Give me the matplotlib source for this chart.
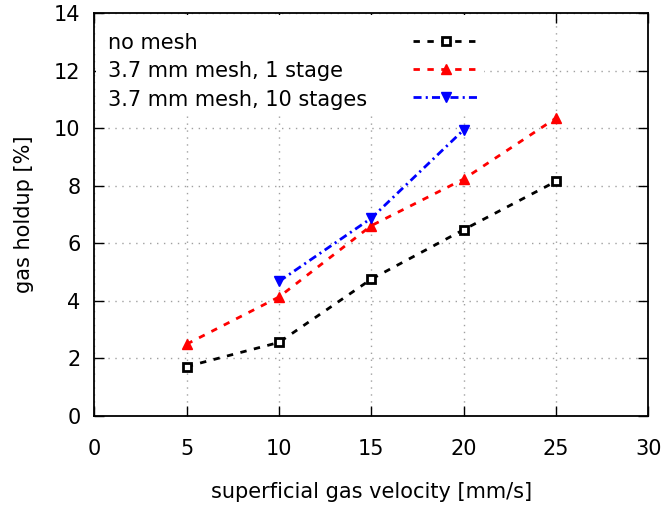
import matplotlib
matplotlib.use("Agg")
import matplotlib.pyplot as plt
from matplotlib.lines import Line2D
from matplotlib.patches import Rectangle

# superficial gas velocity [mm/s]
v_no_mesh = [5, 10, 15, 20, 25]
v_1_stage = [5, 10, 15, 20, 25]
v_10_stages = [10, 15, 20]

# gas holdup [%]
h_no_mesh = [1.71, 2.55, 4.75, 6.47, 8.15]
h_1_stage = [2.49, 4.13, 6.61, 8.23, 10.35]
h_10_stages = [4.67, 6.87, 9.94]

labels = ["no mesh", "3.7 mm mesh, 1 stage", "3.7 mm mesh, 10 stages"]

xticks = [0, 5, 10, 15, 20, 25, 30]
yticks = [0, 2, 4, 6, 8, 10, 12, 14]

plt.rcParams["font.family"] = ["DejaVu Sans"]
FS = 15
LW = 2.0

fig = plt.figure(figsize=(6.69, 5.07), dpi=100)
ax = fig.add_axes([0.141, 0.180, 0.828, 0.794])

styles = [
    dict(color="black", linestyle=(0, (2.3, 2.7)), marker="s", markersize=6.2,
         markerfacecolor="white", markeredgecolor="black", markeredgewidth=2),
    dict(color="red", linestyle=(0, (2.3, 2.7)), marker="^", markersize=7.5,
         markerfacecolor="red", markeredgecolor="red"),
    dict(color="blue", linestyle=(0, (2.9, 1.5, 0.75, 1.5)), marker="v", markersize=7.5,
         markerfacecolor="blue", markeredgecolor="blue"),
]
series = [(v_no_mesh, h_no_mesh), (v_1_stage, h_1_stage), (v_10_stages, h_10_stages)]

for (xs, ys), st in zip(series, styles):
    ax.plot(xs, ys, linewidth=LW, zorder=3, **st)

ax.set_xlim(0, 30)
ax.set_ylim(0, 14)
ax.set_xticks(xticks)
ax.set_yticks(yticks)
ax.tick_params(direction="in", length=7, width=1, top=True, right=True,
               labelsize=FS)
ax.tick_params(axis="x", pad=17)
ax.tick_params(axis="y", pad=10)
ax.grid(True, color="#a0a0a0", linestyle=(0, (1, 4)), linewidth=1)
for s in ax.spines.values():
    s.set_linewidth(1.3)

ax.set_xlabel("superficial gas velocity [mm/s]", fontsize=FS, labelpad=16)
ax.set_ylabel("gas holdup [%]", fontsize=FS, labelpad=14)

# key box: opaque area so grid does not run under the labels
ax.add_patch(Rectangle((0.003, 0.752), 0.70, 0.244, transform=ax.transAxes,
                       facecolor="white", edgecolor="none", zorder=2.5))
row_y = [0.932, 0.862, 0.791]
for lab, st, yy in zip(labels, styles, row_y):
    ax.text(0.025, yy - 0.006, lab, transform=ax.transAxes, fontsize=FS,
            va="center", ha="left", zorder=4)
    line_st = {k: v for k, v in st.items() if not k.startswith("marker")}
    ax.add_line(Line2D([0.575, 0.693], [yy, yy], transform=ax.transAxes,
                       linewidth=LW, zorder=4, **line_st))
    mk_st = {k: v for k, v in st.items() if k != "linestyle"}
    ax.add_line(Line2D([0.635], [yy], transform=ax.transAxes, linestyle="none",
                       zorder=5, **mk_st))

fig.savefig("out.png", dpi=100)
